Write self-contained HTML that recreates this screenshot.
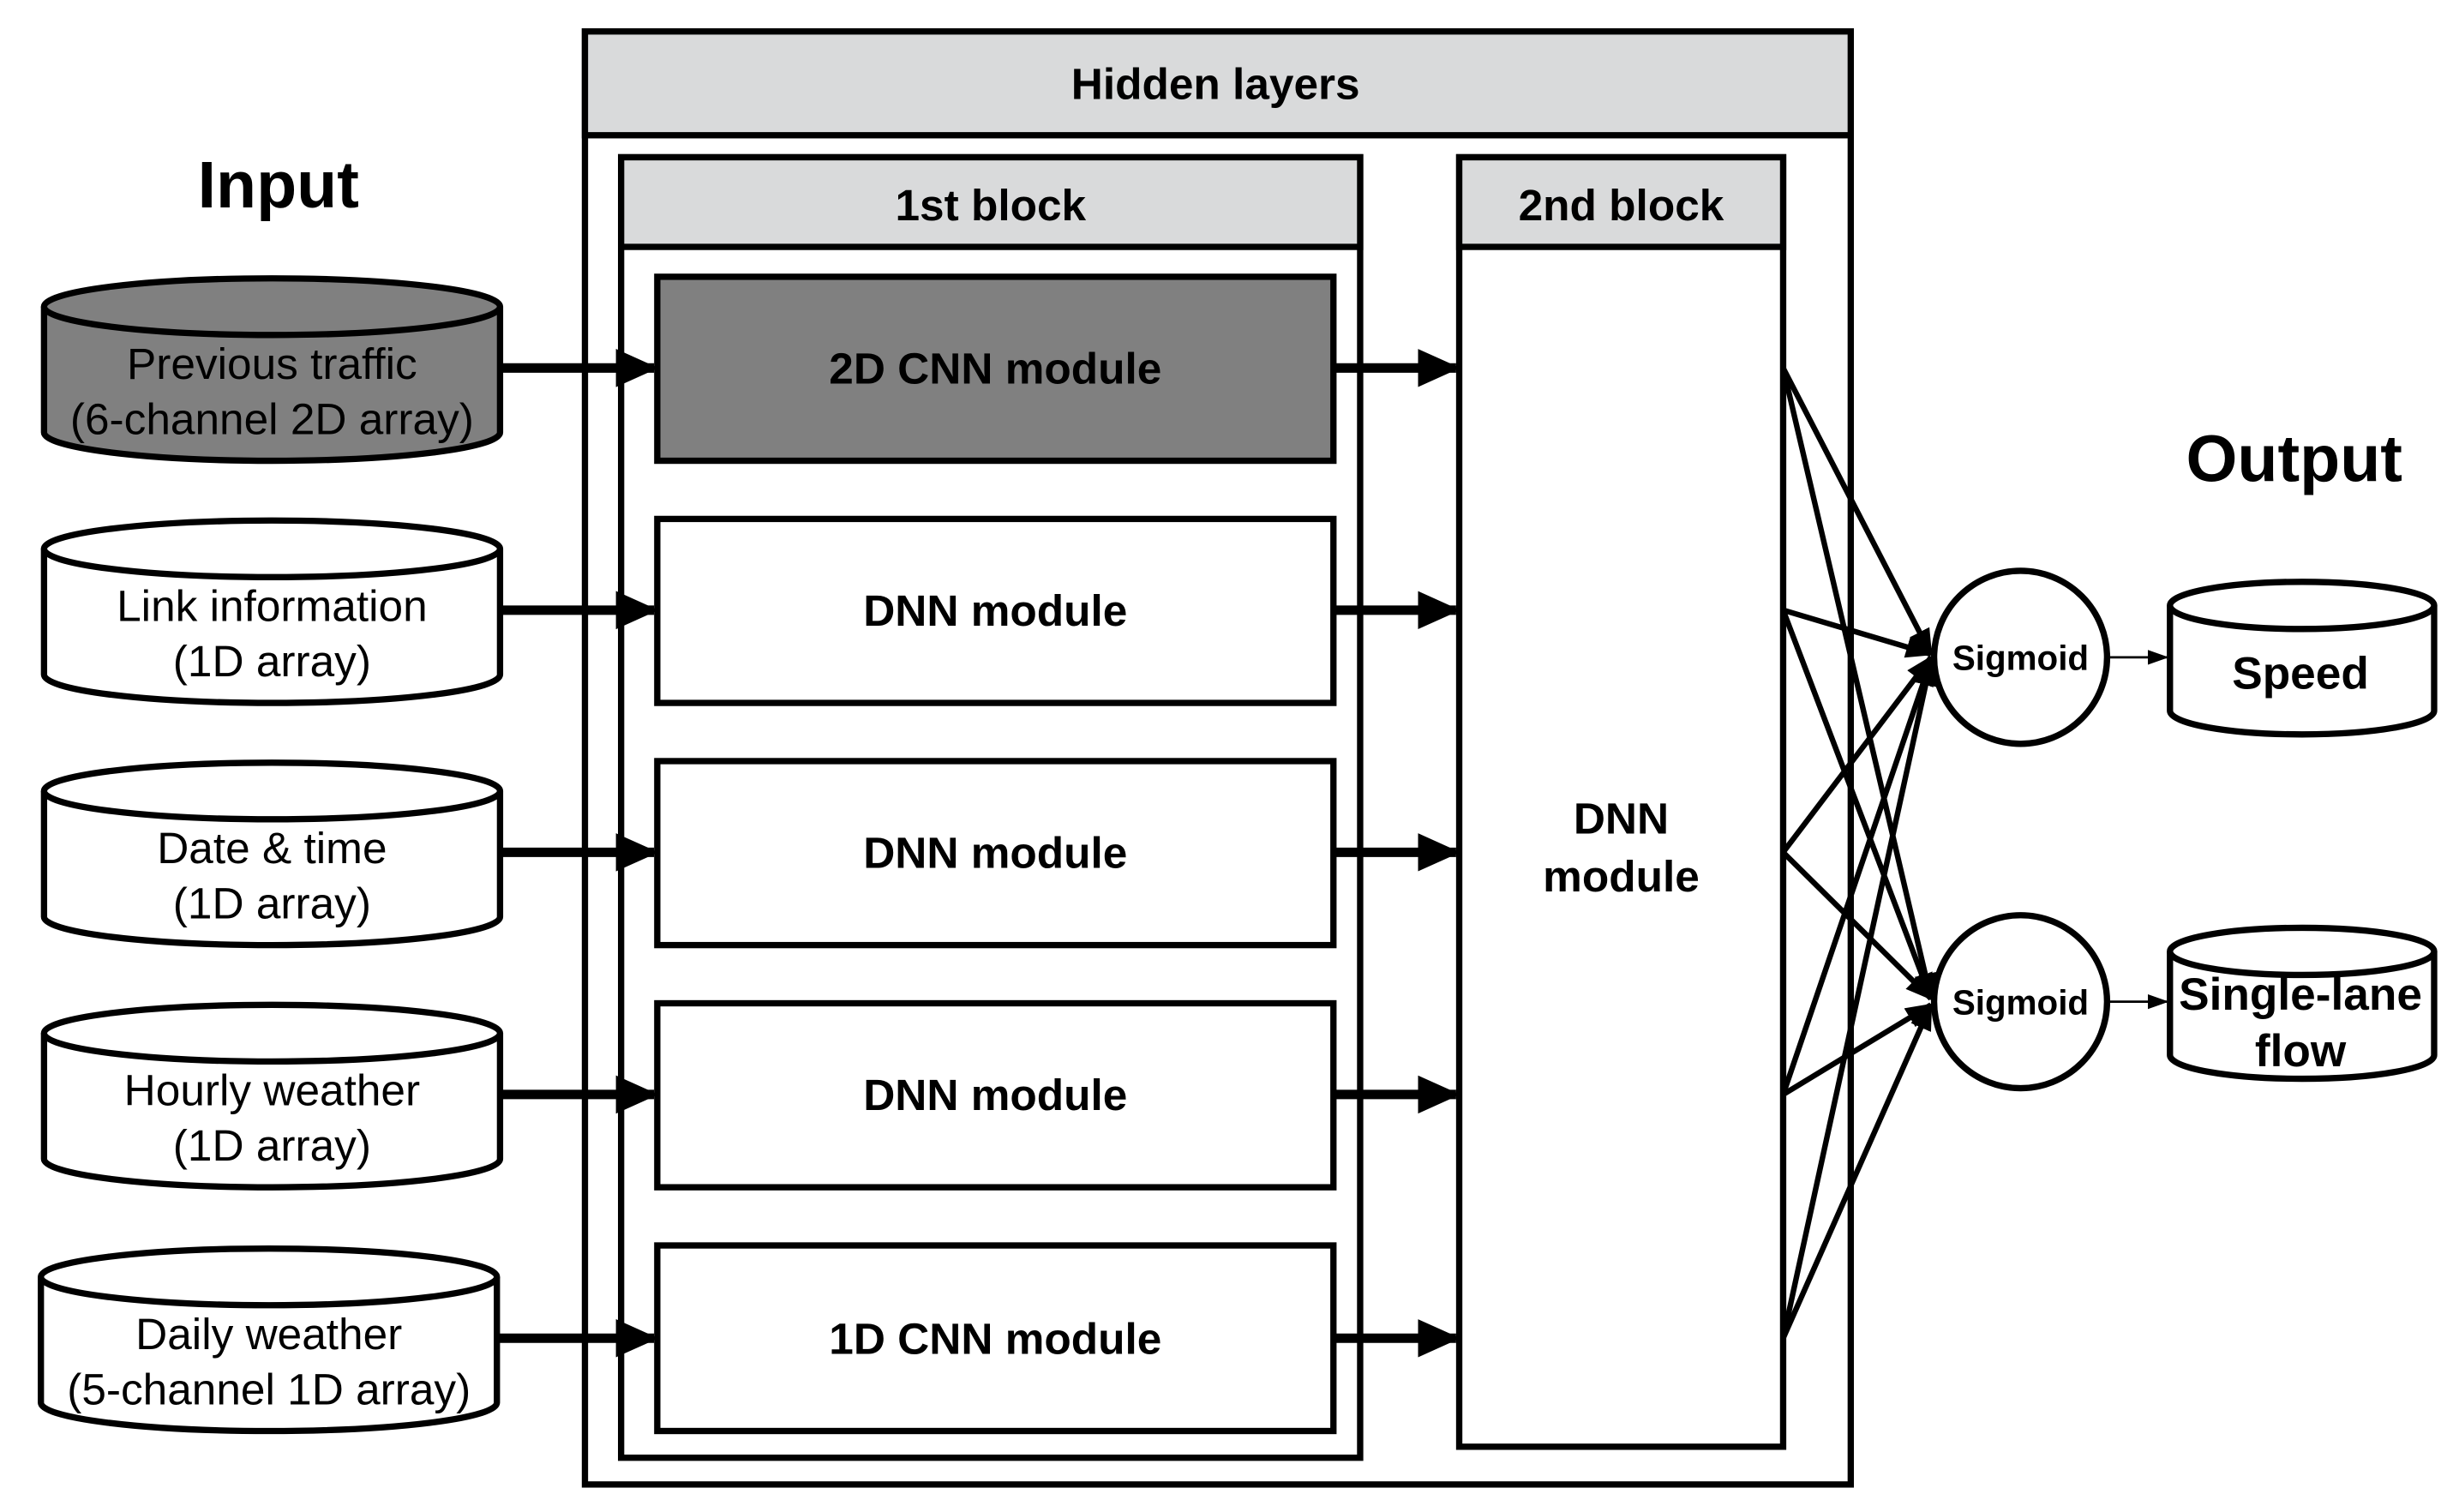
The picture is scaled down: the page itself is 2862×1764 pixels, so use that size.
<!DOCTYPE html>
<html><head><meta charset="utf-8"><style>html,body{margin:0;padding:0;background:#fff}svg{display:block}</style></head>
<body>
<svg xmlns="http://www.w3.org/2000/svg" width="2862" height="1764" viewBox="0 0 1560 961.5" font-family="Liberation Sans, Arial, sans-serif">
<defs>
<marker id="ah" viewBox="0 0 10 10" refX="9" refY="5" markerWidth="4.5" markerHeight="4.5" orient="auto" markerUnits="strokeWidth"><path d="M0,0.5 L10,5 L0,9.5 z" fill="#000"/></marker>
<marker id="ah2" viewBox="0 0 10 10" refX="9" refY="5" markerWidth="5" markerHeight="5" orient="auto" markerUnits="strokeWidth"><path d="M0,1 L10,5 L0,9 z" fill="#000"/></marker>
<marker id="ah3" viewBox="0 0 10 10" refX="9" refY="5" markerWidth="9" markerHeight="9" orient="auto" markerUnits="strokeWidth"><path d="M0,1.5 L10,5 L0,8.5 z" fill="#000"/></marker>
</defs>
<g stroke="#000" stroke-width="4" fill="none">
<rect x="372" y="20" width="805" height="924" fill="#fff"/>
<rect x="372" y="20" width="805" height="66" fill="#d9dadb"/>
<rect x="395" y="100" width="470" height="827" fill="#fff"/>
<rect x="395" y="100" width="470" height="57" fill="#d9dadb"/>
<rect x="928" y="100" width="206" height="820" fill="#fff"/>
<rect x="928" y="100" width="206" height="57" fill="#d9dadb"/>
<rect x="418" y="176" width="430" height="117" fill="#808080"/>
<rect x="418" y="330" width="430" height="117" fill="#fff"/>
<rect x="418" y="484" width="430" height="117" fill="#fff"/>
<rect x="418" y="638" width="430" height="117" fill="#fff"/>
<rect x="418" y="792" width="430" height="118" fill="#fff"/>
</g>
<g stroke="#000" stroke-width="4">
<path d="M28,195 L28,275 A145,18 0 0 0 318,275 L318,195" fill="#808080"/>
<ellipse cx="173" cy="195" rx="145" ry="18" fill="#808080"/>
<path d="M28,349 L28,429 A145,18 0 0 0 318,429 L318,349" fill="#fff"/>
<ellipse cx="173" cy="349" rx="145" ry="18" fill="#fff"/>
<path d="M28,503 L28,583 A145,18 0 0 0 318,583 L318,503" fill="#fff"/>
<ellipse cx="173" cy="503" rx="145" ry="18" fill="#fff"/>
<path d="M28,657 L28,737 A145,18 0 0 0 318,737 L318,657" fill="#fff"/>
<ellipse cx="173" cy="657" rx="145" ry="18" fill="#fff"/>
<path d="M26,812 L26,892 A145,18 0 0 0 316,892 L316,812" fill="#fff"/>
<ellipse cx="171" cy="812" rx="145" ry="18" fill="#fff"/>
<path d="M1380,385 L1380,452 A84,15 0 0 0 1548,452 L1548,385" fill="#fff"/>
<ellipse cx="1464" cy="385" rx="84" ry="15" fill="#fff"/>
<path d="M1380,605 L1380,671 A84,15 0 0 0 1548,671 L1548,605" fill="#fff"/>
<ellipse cx="1464" cy="605" rx="84" ry="15" fill="#fff"/>
<circle cx="1285" cy="418" r="55" fill="#fff"/>
<circle cx="1285" cy="637" r="55" fill="#fff"/>
</g>
<g stroke="#000" stroke-width="6" fill="none">
<line x1="318" y1="234" x2="416" y2="234" marker-end="url(#ah)"/>
<line x1="318" y1="388" x2="416" y2="388" marker-end="url(#ah)"/>
<line x1="318" y1="542" x2="416" y2="542" marker-end="url(#ah)"/>
<line x1="318" y1="696" x2="416" y2="696" marker-end="url(#ah)"/>
<line x1="316" y1="851" x2="416" y2="851" marker-end="url(#ah)"/>
<line x1="848" y1="234" x2="926" y2="234" marker-end="url(#ah)"/>
<line x1="848" y1="388" x2="926" y2="388" marker-end="url(#ah)"/>
<line x1="848" y1="542" x2="926" y2="542" marker-end="url(#ah)"/>
<line x1="848" y1="696" x2="926" y2="696" marker-end="url(#ah)"/>
<line x1="848" y1="851" x2="926" y2="851" marker-end="url(#ah)"/>
</g>
<g stroke="#000" stroke-width="3.5" fill="none">
<line x1="1134" y1="234" x2="1228" y2="416" marker-end="url(#ah2)"/>
<line x1="1134" y1="388" x2="1228" y2="416" marker-end="url(#ah2)"/>
<line x1="1134" y1="542" x2="1228" y2="418" marker-end="url(#ah2)"/>
<line x1="1134" y1="696" x2="1228" y2="420" marker-end="url(#ah2)"/>
<line x1="1134" y1="851" x2="1228" y2="420" marker-end="url(#ah2)"/>
<line x1="1134" y1="234" x2="1228" y2="635" marker-end="url(#ah2)"/>
<line x1="1134" y1="388" x2="1228" y2="635" marker-end="url(#ah2)"/>
<line x1="1134" y1="542" x2="1228" y2="635" marker-end="url(#ah2)"/>
<line x1="1134" y1="696" x2="1228" y2="639" marker-end="url(#ah2)"/>
<line x1="1134" y1="851" x2="1228" y2="639" marker-end="url(#ah2)"/>
</g>
<g stroke="#000" stroke-width="1.5" fill="none">
<line x1="1340" y1="418" x2="1378" y2="418" marker-end="url(#ah3)"/>
<line x1="1340" y1="637" x2="1378" y2="637" marker-end="url(#ah3)"/>
</g>
<g fill="#000" text-anchor="middle" font-weight="bold">
<text x="773" y="63" font-size="28">Hidden layers</text>
<text x="630" y="140" font-size="28">1st block</text>
<text x="1031" y="140" font-size="28">2nd block</text>
<text x="633" y="244" font-size="28">2D CNN module</text>
<text x="633" y="398" font-size="28">DNN module</text>
<text x="633" y="552" font-size="28">DNN module</text>
<text x="633" y="706" font-size="28">DNN module</text>
<text x="633" y="861" font-size="28">1D CNN module</text>
<text x="1031" y="530" font-size="28">DNN</text>
<text x="1031" y="567" font-size="28">module</text>
<text x="177" y="132" font-size="42">Input</text>
<text x="1459" y="306" font-size="42">Output</text>
<text x="1285" y="426" font-size="22">Sigmoid</text>
<text x="1285" y="645" font-size="22">Sigmoid</text>
<text x="1463" y="438" font-size="29">Speed</text>
<text x="1463" y="642" font-size="29">Single-lane</text>
<text x="1463" y="678" font-size="29">flow</text>
</g>
<g fill="#000" text-anchor="middle" font-size="28">
<text x="173" y="241">Previous traffic</text>
<text x="173" y="276">(6-channel 2D array)</text>
<text x="173" y="395">Link information</text>
<text x="173" y="430">(1D array)</text>
<text x="173" y="549">Date &amp; time</text>
<text x="173" y="584">(1D array)</text>
<text x="173" y="703">Hourly weather</text>
<text x="173" y="738">(1D array)</text>
<text x="171" y="858">Daily weather</text>
<text x="171" y="893">(5-channel 1D array)</text>
</g>
</svg>
</body></html>
